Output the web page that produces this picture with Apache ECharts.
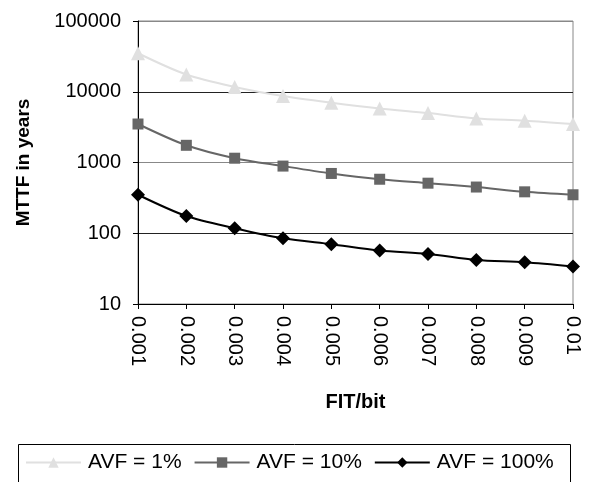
<!DOCTYPE html>
<html><head><meta charset="utf-8">
<script src="https://cdn.jsdelivr.net/npm/echarts@6/dist/echarts.min.js"></script>
<style>html,body{margin:0;padding:0;background:#fff}#c{width:589px;height:482px}</style>
</head><body><div id="c"></div>
<script>
var categories = ['0.001','0.002','0.003','0.004','0.005','0.006','0.007','0.008','0.009','0.01'];
var avf1 = [35000, 17500, 11700, 8700, 7000, 5800, 5000, 4200, 3900, 3500];
var avf10 = [3500, 1750, 1150, 890, 700, 580, 510, 450, 385, 350];
var avf100 = [350, 175, 118, 85, 70, 57, 51, 42, 39, 34];
var seriesNames = ['AVF = 1%', 'AVF = 10%', 'AVF = 100%'];
var yTicks = [10, 100, 1000, 10000, 100000];

var FONT = '"Liberation Sans", Arial, sans-serif';
var chart = echarts.init(document.getElementById('c'), null, {renderer: 'canvas'});
chart.setOption({
  animation: false,
  backgroundColor: '#fff',
  grid: {left: 138, right: 16, top: 21, bottom: 178, show: true, borderColor: '#888', borderWidth: 1, backgroundColor: 'transparent'},
  xAxis: {
    type: 'category', data: categories, boundaryGap: false,
    name: 'FIT/bit', nameLocation: 'middle', nameGap: 88,
    nameTextStyle: {fontFamily: FONT, fontWeight: 'bold', fontSize: 20, color: '#000'},
    axisLine: {lineStyle: {color: '#000', width: 1}},
    axisTick: {show: true, length: 5, alignWithLabel: true, lineStyle: {color: '#000'}},
    axisLabel: {rotate: -90, fontFamily: FONT, fontSize: 20, color: '#000', margin: 12},
    splitLine: {show: false}
  },
  yAxis: {
    type: 'log', logBase: 10, min: yTicks[0], max: yTicks[yTicks.length - 1],
    name: 'MTTF in years', nameLocation: 'middle', nameGap: 105,
    nameTextStyle: {fontFamily: FONT, fontWeight: 'bold', fontSize: 19, color: '#000'},
    axisLine: {show: true, lineStyle: {color: '#000', width: 1}},
    axisTick: {show: true, length: 5, lineStyle: {color: '#000'}},
    axisLabel: {fontFamily: FONT, fontSize: 20, color: '#000', margin: 17,
      formatter: function (v) { return String(Math.round(v)); }},
    splitLine: {show: true, lineStyle: {color: ['#000', '#222', '#888', '#222', '#888'], width: 1}}
  },
  legend: {
    left: 25, top: 452, padding: 0, itemGap: 12, itemWidth: 55, itemHeight: 13,
    data: seriesNames,
    textStyle: {fontFamily: FONT, fontSize: 21, color: '#000', padding: [0, 0, 0, 2]}
  },
  graphic: [{type: 'rect', shape: {x: 18.5, y: 444.5, width: 552, height: 60}, style: {fill: 'none', stroke: '#000', lineWidth: 1}, z: -1}],
  series: [
    {name: seriesNames[0], type: 'line', data: avf1, smooth: 0.3, symbol: 'triangle', symbolSize: 14,
     itemStyle: {color: '#e0e0e0'}, lineStyle: {color: '#e0e0e0', width: 2}},
    {name: seriesNames[1], type: 'line', data: avf10, smooth: 0.3, symbol: 'rect', symbolSize: 11,
     itemStyle: {color: '#666'}, lineStyle: {color: '#666', width: 2}},
    {name: seriesNames[2], type: 'line', data: avf100, smooth: 0.3, symbol: 'diamond', symbolSize: 14,
     itemStyle: {color: '#000'}, lineStyle: {color: '#000', width: 2}}
  ]
});
</script></body></html>
